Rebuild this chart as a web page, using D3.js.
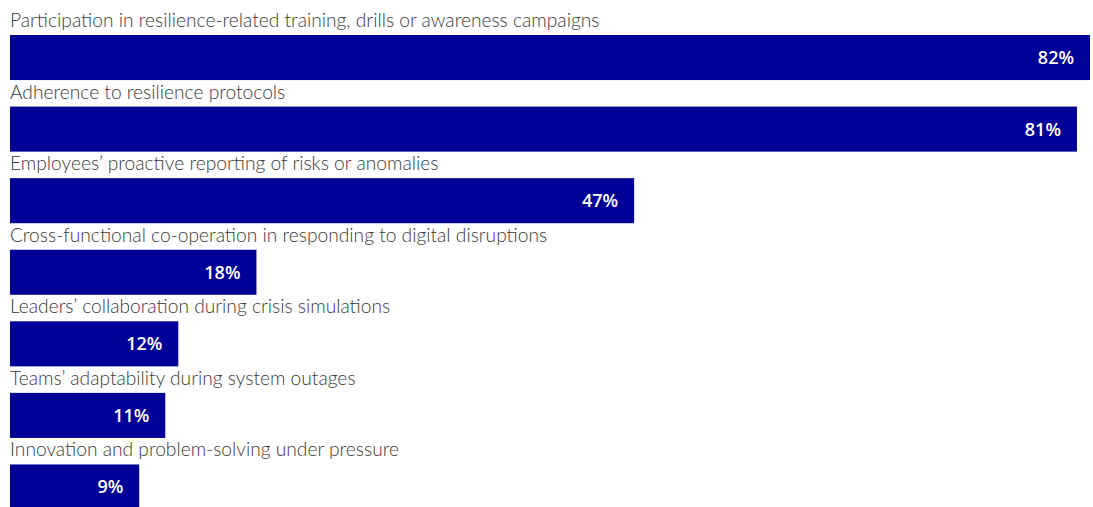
<!DOCTYPE html>
<html>
<head>
<meta charset="utf-8">
<script src="https://cdn.jsdelivr.net/npm/d3@7"></script>
<style>
  html, body { margin: 0; padding: 0; background: #ffffff; }
  svg { display: block; }
</style>
</head>
<body>
<svg id="chart" width="1093" height="507"></svg>
<script>
// Share of respondents citing each resilience behaviour
const categories = [
  "Participation in resilience-related training, drills or awareness campaigns",
  "Adherence to resilience protocols",
  "Employees\u2019 proactive reporting of risks or anomalies",
  "Cross-functional co-operation in responding to digital disruptions",
  "Leaders\u2019 collaboration during crisis simulations",
  "Teams\u2019 adaptability during system outages",
  "Innovation and problem-solving under pressure"
];
const values = [82, 81, 47, 18, 12, 11, 9];

const width = 1093, height = 507;
const left = 10;
const barColor = "#000096";

const svg = d3.select("#chart");

const x = d3.scaleLinear().domain([0, 82]).range([left + 12, 1090]);
const y = d3.scaleBand()
  .domain(categories)
  .range([35, 509.5])
  .paddingInner(0.3706)
  .paddingOuter(0);

const data = categories.map((c, i) => ({ category: c, value: values[i] }));

const row = svg.selectAll("g.row")
  .data(data)
  .join("g")
  .attr("class", "row");

row.append("rect")
  .attr("x", left)
  .attr("y", d => y(d.category))
  .attr("width", d => x(d.value) - left)
  .attr("height", y.bandwidth())
  .attr("fill", barColor);

row.append("text")
  .attr("x", left)
  .attr("y", d => y(d.category) - 8)
  .attr("font-family", "Lato, 'Open Sans', sans-serif")
  .attr("font-weight", 300)
  .attr("font-size", 19.2)
  .attr("fill", "#3a3a3a")
  .text(d => d.category);

row.append("text")
  .attr("x", d => x(d.value) - 16)
  .attr("y", d => y(d.category) + y.bandwidth() / 2)
  .attr("dy", "0.36em")
  .attr("text-anchor", "end")
  .attr("font-family", "'Open Sans', sans-serif")
  .attr("font-weight", 600)
  .attr("font-size", 18)
  .attr("fill", "#ffffff")
  .text(d => d.value + "%");
</script>
</body>
</html>
